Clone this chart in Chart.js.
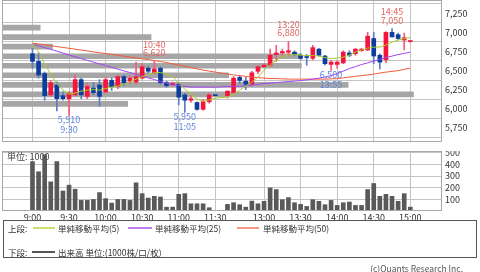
<!DOCTYPE html>
<html>
<head>
<meta charset="utf-8">
<script src="https://cdn.jsdelivr.net/npm/chart.js@4.4.1/dist/chart.umd.min.js"></script>
<style>
  body { margin: 0; background: #fff; width: 480px; height: 272px; overflow: hidden; position: relative;
         font-family: "Noto Sans CJK JP", sans-serif; }
  #priceBox { position: absolute; left: 0; top: 0; width: 480px; height: 143px; }
  #volBox { position: absolute; left: 0; top: 151px; width: 480px; height: 74px; }
  #legend { position: absolute; left: 3px; top: 220px; width: 474px; height: 38px; border: 1px solid #555;
            box-sizing: border-box; font-size: 8.5px; color: #333; }
  #legend .t { position: absolute; line-height: 10px; white-space: nowrap; }
  #legend .ln { position: absolute; height: 2px; }
  #copy { position: absolute; right: 17px; top: 263px; font-size: 8.5px; line-height: 10px; color: #555; }
</style>
</head>
<body>
<div id="priceBox"><canvas id="priceChart" width="480" height="143"></canvas></div>
<div id="volBox"><canvas id="volChart" width="480" height="74"></canvas></div>
<div id="legend">
  <span class="t" style="left:4px;top:2px">上段:</span>
  <span class="ln" style="left:29px;top:6px;width:22px;background:#c8e070"></span>
  <span class="t" style="left:54px;top:2px">単純移動平均(5)</span>
  <span class="ln" style="left:124px;top:6px;width:24px;background:#c080f0"></span>
  <span class="t" style="left:151px;top:2px">単純移動平均(25)</span>
  <span class="ln" style="left:233px;top:6px;width:22px;background:#f89a88"></span>
  <span class="t" style="left:259px;top:2px">単純移動平均(50)</span>
  <span class="t" style="left:4px;top:26px">下段:</span>
  <span class="ln" style="left:28px;top:30px;width:23px;background:#555"></span>
  <span class="t" style="left:54px;top:26px">出来高 単位:(1000株/口/枚)</span>
</div>
<div id="copy">(c)Quants Research Inc.</div>
<script>
// 5-minute slots: 0 = 9:00 ... 30 = 11:30, 31 = lunch gap, 32 = 12:30 ... 62 = 15:00
const tickSlots = [0, 6, 12, 18, 24, 30, 38, 44, 50, 56, 62];
const tickLabels = ['9:00', '9:30', '10:00', '10:30', '11:00', '11:30', '13:00', '13:30', '14:00', '14:30', '15:00'];
const priceTicks = [5750, 6000, 6250, 6500, 6750, 7000, 7250];
const volTicks = [100, 200, 300, 400, 500];

const openP = [6720,6620,6460,6180,6310,6170,6130,6180,6380,6160,6270,6310,6220,6370,6290,6420,6360,6350,6400,6530,6470,6530,6340,6310,6320,6180,6110,6080,5990,6090,6180,
  null,
  6170,6210,6410,6360,6320,6490,6550,6570,6710,6730,6740,6740,6700,6680,6660,6780,6690,6580,6580,6600,6730,6720,6760,6770,6920,6700,6640,7000,6970,6900,6880];
const highP = [6790,6730,6480,6370,6350,6220,6220,6440,6400,6330,6340,6380,6410,6400,6440,6440,6430,6610,6590,6560,6620,6550,6360,6350,6340,6200,6170,6090,6120,6200,6180,
  null,
  6230,6420,6430,6410,6490,6560,6590,6780,6830,6780,6880,6760,6720,6710,6830,6790,6700,6630,6630,6760,6760,6790,6790,7000,7000,6720,7010,7050,6990,6990,6890];
const lowP = [6530,6400,6110,6160,5970,6110,5910,6170,6130,6130,6180,6030,6200,6240,6260,6300,6330,6330,6390,6470,6460,6320,6280,6300,6050,5950,6080,5980,5980,6070,6170,
  null,
  6140,6190,6330,6250,6300,6460,6540,6550,6620,6700,6690,6690,6640,6570,6640,6690,6570,6500,6530,6590,6680,6700,6750,6760,6590,6520,6600,6960,6900,6770,6870];
const closeP = [6620,6440,6170,6340,6130,6130,6200,6380,6180,6290,6210,6160,6380,6290,6420,6340,6400,6420,6550,6490,6520,6340,6300,6330,6150,6110,6130,5990,6090,6180,6170,
  null,
  6230,6400,6370,6320,6470,6550,6570,6700,6730,6750,6760,6710,6660,6670,6800,6700,6590,6610,6610,6740,6700,6780,6780,6950,6690,6610,7000,6940,6920,6930,6880];
const volume = [424,337,483,250,424,172,222,187,91,91,99,158,106,68,99,99,91,242,149,111,126,120,33,33,143,149,62,62,62,28,3,
  null,
  57,71,54,33,85,62,83,198,184,97,115,71,57,39,97,83,54,91,48,71,77,48,48,184,236,126,143,126,83,149,33];

const ma5 = [6860,6742,6584,6453,6322,6243,6190,6203,6230,6243,6250,6243,6263,6282,6295,6315,6352,6387,6420,6446,6473,6473,6453,6414,6335,6256,6190,6125,6099,6112,6138,
  null,
  6151,6190,6243,6295,6348,6414,6505,6571,6637,6676,6702,6709,6702,6696,6696,6689,6669,6656,6663,6676,6702,6742,6768,6794,6807,6807,6833,6873,6899,6919,6932];
const ma25 = [6846,6823,6801,6777,6755,6728,6702,6680,6656,6633,6610,6587,6564,6541,6518,6495,6473,6449,6427,6403,6381,6357,6335,6318,6302,6292,6282,6282,6282,6282,6282,
  null,
  6289,6292,6295,6302,6309,6318,6328,6335,6341,6348,6355,6361,6368,6377,6387,6400,6414,6433,6459,6492,6525,6551,6578,6600,6623,6646,6669,6689,6709,6724,6742];
const ma50 = [6860,6848,6837,6825,6814,6803,6791,6780,6768,6757,6745,6734,6723,6711,6700,6688,6677,6666,6654,6643,6631,6618,6604,6588,6571,6555,6538,6522,6505,6492,6479,
  null,
  6453,6442,6433,6423,6414,6407,6400,6396,6394,6390,6387,6387,6387,6387,6387,6387,6387,6390,6394,6403,6414,6423,6433,6442,6453,6466,6479,6488,6499,6515,6532];

// volume by price (left-side horizontal bars)
const profilePrice = [7062.5, 6937.5, 6812.5, 6687.5, 6562.5, 6437.5, 6312.5, 6187.5, 6062.5];
const profileVol = [155, 605, 205, 1215, 1215, 920, 1405, 1670, 510];

// high / low annotations
const markSlot = [20, 42, 59, 6, 25, 49];
const markPrice = [6620, 6880, 7050, 5910, 5950, 6500];
const markTime = ['10:40', '13:20', '14:45', '9:30', '11:05', '13:55'];
const markType = ['high', 'high', 'high', 'low', 'low', 'low'];

Chart.defaults.font.family = '"Noto Sans CJK JP", sans-serif';
Chart.defaults.font.size = 9;
Chart.defaults.color = '#333';

const UP = '#f5143c', DOWN = '#0c3c9c', UP_WICK = '#f25a78', DOWN_WICK = '#5a7cc4';
const GRID = '#c4c4c4';

const slots = closeP.map((c, i) => i).filter(i => closeP[i] !== null);
const isUp = i => closeP[i] >= openP[i];

const frame = {
  id: 'frame',
  afterDraw(chart) {
    const a = chart.chartArea, ctx = chart.ctx;
    ctx.save();
    ctx.strokeStyle = '#a8a8a8';
    ctx.lineWidth = 1;
    ctx.strokeRect(a.left + 0.5, a.top + 0.5, a.right - a.left - 1, a.bottom - a.top - 1);
    ctx.restore();
  }
};

const marks = {
  id: 'marks',
  afterDatasetsDraw(chart) {
    const ctx = chart.ctx, xs = chart.scales.x, ys = chart.scales.y;
    ctx.save();
    ctx.font = '9px "Noto Sans CJK JP", sans-serif';
    ctx.textAlign = 'center';
    ctx.textBaseline = 'middle';
    markSlot.forEach((s, i) => {
      const x = xs.getPixelForValue(s), y = ys.getPixelForValue(markPrice[i]);
      const p = markPrice[i].toLocaleString('en-US');
      if (markType[i] === 'high') {
        ctx.fillStyle = '#e26660';
        ctx.fillText(markTime[i], x, y - 17);
        ctx.fillText(p, x, y - 8.5);
      } else {
        ctx.fillStyle = '#5c82e2';
        ctx.fillText(p, x, y + 4.5);
        ctx.fillText(markTime[i], x, y + 14);
      }
    });
    ctx.restore();
  }
};

const unitLabel = {
  id: 'unitLabel',
  beforeDatasetsDraw(chart) {
    const ctx = chart.ctx, a = chart.chartArea;
    ctx.save();
    ctx.font = '9px "Noto Sans CJK JP", sans-serif';
    ctx.fillStyle = '#444';
    ctx.textAlign = 'left';
    ctx.textBaseline = 'middle';
    ctx.fillText('単位: 1000', a.left + 5, a.top + 6);
    ctx.restore();
  }
};

const xAxis = (showLabels) => ({
  type: 'linear', min: -5, max: 67.2, offset: false,
  afterBuildTicks: s => { s.ticks = tickSlots.map(v => ({ value: v })); },
  afterFit: s => { s.height = showLabels ? 14 : 1; },
  grid: { color: GRID, drawTicks: false, offset: false },
  border: { display: false },
  ticks: { display: showLabels, padding: 1, autoSkip: false, maxRotation: 0,
           callback: (v, i) => tickLabels[i] }
});

const rightAxis = (min, max, ticks, fmt) => ({
  type: 'linear', position: 'right', min, max, offset: false,
  afterBuildTicks: s => { s.ticks = ticks.map(v => ({ value: v })); },
  afterFit: s => { s.width = 38; s.paddingTop = 0; s.paddingBottom = 0; },
  grid: { color: GRID, drawTicks: false },
  border: { display: false },
  ticks: { padding: 3, callback: fmt }
});

new Chart(document.getElementById('priceChart'), {
  type: 'bar',
  data: {
    datasets: [
      { type: 'line', label: 'MA5', data: ma5.map((v, i) => ({ x: i, y: v })), borderColor: '#a8cc2a',
        borderWidth: 1, pointRadius: 0, spanGaps: true, order: 0 },
      { type: 'line', label: 'MA25', data: ma25.map((v, i) => ({ x: i, y: v })), borderColor: '#a244f2',
        borderWidth: 1, pointRadius: 0, spanGaps: true, order: 0 },
      { type: 'line', label: 'MA50', data: ma50.map((v, i) => ({ x: i, y: v })), borderColor: '#f25a38',
        borderWidth: 1, pointRadius: 0, spanGaps: true, order: 0 },
      { label: 'body', data: slots.map(i => ({ x: i, y: [openP[i], closeP[i]] })),
        backgroundColor: c => isUp(c.raw.x) ? UP : DOWN, barThickness: 4, minBarLength: 1,
        grouped: false, order: 1 },
      { label: 'wick', data: slots.map(i => ({ x: i, y: [lowP[i], highP[i]] })),
        backgroundColor: c => isUp(c.raw.x) ? UP_WICK : DOWN_WICK, barThickness: 1,
        grouped: false, order: 2 },
      { label: 'profile', indexAxis: 'y', xAxisID: 'x2', yAxisID: 'y',
        data: profilePrice.map((p, i) => ({ x: profileVol[i], y: p })),
        backgroundColor: '#a6a6a6', barThickness: 5, grouped: false, order: 3 }
    ]
  },
  options: {
    responsive: false, animation: false, devicePixelRatio: 1,
    layout: { padding: { left: 2, right: 0, top: 0, bottom: 0 } },
    plugins: { legend: { display: false }, tooltip: { enabled: false } },
    scales: {
      x: xAxis(false),
      x2: { type: 'linear', min: 0, max: 1786, display: false, offset: false },
      y: rightAxis(5562, 7425, priceTicks, v => v.toLocaleString('en-US'))
    }
  },
  plugins: [frame, marks]
});

new Chart(document.getElementById('volChart'), {
  type: 'bar',
  data: {
    datasets: [{ label: '出来高', data: slots.map(i => ({ x: i, y: volume[i] })),
                 backgroundColor: '#595959', barThickness: 4, grouped: false }]
  },
  options: {
    responsive: false, animation: false, devicePixelRatio: 1,
    layout: { padding: { left: 2, right: 0, top: 0, bottom: 0 } },
    plugins: { legend: { display: false }, tooltip: { enabled: false } },
    scales: {
      x: xAxis(true),
      y: rightAxis(0, 515, volTicks, v => String(v))
    }
  },
  plugins: [frame, unitLabel]
});
</script>
</body>
</html>
